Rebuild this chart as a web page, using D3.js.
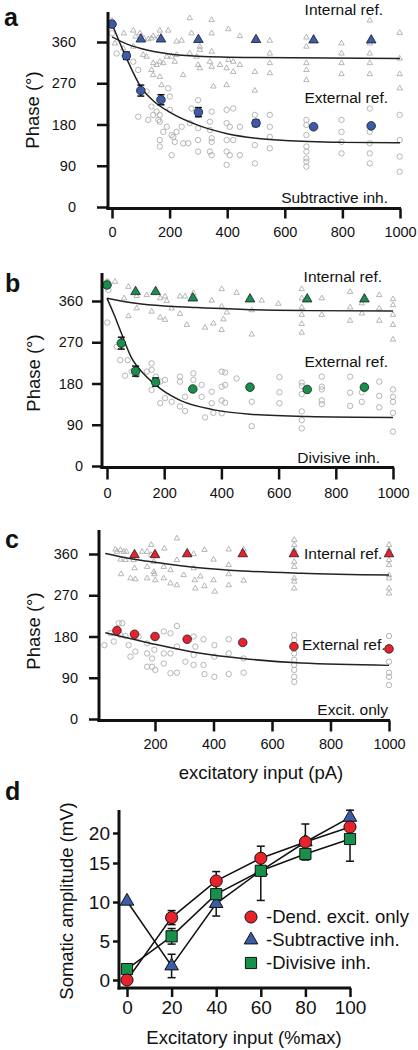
<!DOCTYPE html>
<html><head><meta charset="utf-8">
<script src="https://cdn.jsdelivr.net/npm/d3@7"></script>
<style>body{margin:0;background:#fff}svg{display:block;font-family:"Liberation Sans",Arial,sans-serif}</style>
</head><body>
<script>
// ---------- Panel a (subtractive inh.) ----------
const aX = [0,50,100,170,300,500,700,900];
const aExt = [399,330,254,234,207,183,175,177];
const aExtErr = [0,8,12,11,10,7,0,0];
const aIntX = [100,170,300,500,700,900];
const aInt = [366,366,365,365,364,364];
const aIntFit = [[0,371],[50,356],[100,346],[200,334],[300,329],[500,326],[1000,324]];
const aExtFit = [[0,400],[50,325],[100,262],[150,228],[200,207],[300,178],[400,160],[500,150],[600,145],[800,141],[1000,140]];
const aTri = [[0,407],[41,379],[74,385],[82,372],[97,379],[111,368],[126,366],[137,368],[143,373],[161,370],[166,385],[195,385],[224,361],[242,363],[270,412],[276,379],[305,350],[346,408],[346,379],[404,388],[444,373],[496,363],[548,363],[675,370],[895,407],[999,380],[10,357],[39,346],[74,350],[108,332],[120,328],[143,314],[155,310],[166,317],[178,314],[190,328],[207,328],[218,317],[224,332],[247,288],[270,335],[294,328],[305,343],[299,310],[305,303],[346,339],[346,306],[340,317],[375,310],[398,303],[421,295],[404,321],[421,317],[444,310],[548,335],[548,314],[548,292],[496,295],[496,254],[675,350],[675,314],[675,299],[675,277],[797,357],[797,335],[797,314],[797,290],[895,357],[895,335],[895,314],[895,290],[999,324],[999,290],[999,259],[352,263],[398,266],[166,284],[172,266],[143,288],[137,299]];
const aCirc = [[0,379],[16,335],[74,317],[91,299],[91,197],[126,190],[120,252],[137,219],[143,201],[155,208],[161,190],[166,201],[166,186],[178,164],[166,146],[166,132],[190,175],[195,259],[201,241],[201,212],[207,157],[213,153],[218,142],[207,113],[224,164],[242,175],[247,139],[265,139],[270,183],[276,215],[299,233],[299,201],[299,172],[299,146],[299,121],[346,208],[340,186],[340,168],[346,150],[346,142],[340,121],[346,113],[398,212],[421,215],[398,183],[409,175],[398,146],[421,146],[398,121],[409,113],[398,92],[444,175],[444,113],[496,201],[496,179],[496,135],[496,95],[548,201],[548,175],[548,153],[548,128],[675,190],[675,179],[675,157],[675,132],[675,121],[675,106],[675,99],[675,88],[797,190],[797,164],[797,142],[797,117],[895,215],[895,164],[895,139],[895,117],[895,95],[999,201],[999,146],[999,110],[999,77]];

// ---------- Panel b (divisive inh.) ----------
const bX = [0,50,100,170,300,500,700,900];
const bExt = [395,268,207,183,168,172,167,172];
const bExtErr = [0,13,11,9,0,0,0,0];
const bIntX = [100,170,300,500,700,900];
const bInt = [380,380,366,364,364,364];
const bIntFit = [[0,366],[100,355],[200,349],[300,346],[500,341],[700,339],[1000,338]];
const bExtFit = [[0,366],[25,330],[50,290],[85,237],[130,200],[190,167],[260,142],[370,123],[500,113],[700,108],[1000,106]];
const bTri = [[1,402],[28,402],[75,391],[104,371],[60,366],[104,344],[75,327],[156,337],[139,373],[186,366],[203,370],[209,360],[226,344],[186,324],[203,319],[255,370],[273,370],[255,332],[279,308],[302,377],[308,366],[343,302],[366,361],[372,311],[401,386],[401,348],[407,320],[401,297],[419,335],[453,378],[506,340],[506,287],[541,361],[599,354],[681,386],[681,366],[681,346],[681,330],[681,310],[681,291],[751,366],[751,330],[850,380],[850,346],[850,317],[891,333],[891,355],[952,373],[952,344],[952,317],[1000,364],[1000,351],[1000,330],[1000,308],[1000,276]];
const bCirc = [[1,402],[5,384],[1,313],[34,260],[46,231],[72,231],[63,197],[104,199],[86,206],[139,206],[156,224],[156,210],[156,166],[171,195],[186,184],[203,188],[186,137],[203,148],[226,140],[255,195],[255,184],[255,130],[273,120],[273,151],[302,202],[302,188],[331,177],[331,151],[343,106],[366,162],[366,137],[372,116],[401,206],[413,204],[401,173],[413,177],[401,143],[413,138],[401,115],[453,191],[506,140],[506,87],[603,194],[603,161],[603,137],[681,182],[681,175],[681,157],[681,119],[681,100],[681,82],[751,195],[751,173],[751,167],[751,143],[751,135],[850,195],[850,160],[850,131],[891,161],[891,140],[952,184],[952,153],[952,128],[1000,167],[1000,151],[1000,140],[1000,116],[1000,75]];

// ---------- Panel c (excit. only) ----------
const cX = [70,130,200,310,500,675,1000];
const cExt = [193,185,180,174,167,158,153];
const cIntX = [130,200,310,500,675,1000];
const cInt = [358,358,360,360,360,360];
const cIntFit = [[30,361],[100,352],[200,342],[350,330],[500,323],[700,318],[1000,314]];
const cExtFit = [[30,188],[100,178],[200,163],[350,144],[500,132],[700,122],[1000,117]];
const cTri = [[65,370],[70,365],[82,369],[93,365],[102,365],[82,348],[99,347],[84,316],[116,307],[133,305],[130,329],[127,347],[156,365],[173,365],[187,380],[187,358],[173,332],[173,307],[196,343],[196,321],[201,303],[198,316],[232,372],[230,332],[230,307],[253,325],[253,296],[275,394],[275,347],[275,292],[298,314],[332,360],[332,329],[336,303],[338,285],[355,311],[369,369],[369,290],[400,348],[400,303],[404,278],[452,336],[452,316],[452,292],[452,370],[503,370],[503,302],[676,391],[676,380],[676,369],[676,343],[676,332],[676,307],[676,300],[676,285],[1000,380],[1000,369],[1000,347],[1000,336],[1000,314],[1000,307],[1000,285],[1000,274]];
const cCirc = [[27,161],[48,187],[59,169],[76,209],[88,209],[82,183],[99,181],[110,161],[116,136],[133,147],[144,180],[173,165],[173,143],[173,114],[190,132],[190,114],[201,107],[198,151],[230,191],[230,143],[230,121],[253,187],[253,143],[253,100],[275,203],[275,158],[275,101],[304,125],[332,180],[332,140],[332,118],[338,158],[366,174],[366,118],[369,98],[403,161],[403,136],[403,92],[452,174],[452,143],[452,98],[503,132],[503,101],[676,183],[676,172],[676,143],[676,129],[676,118],[676,107],[676,92],[676,81],[1000,181],[1000,125],[1000,101],[1000,92],[1000,74]];

const phaseTicks = [0,90,180,270,360];
const xTicksAB = [0,200,400,600,800,1000];
const xTicksC = [200,400,600,800,1000];

// ---------- Panel d ----------
const dX = [0,20,40,60,80,100];
const dRed = [0,8.0,12.7,15.8,18.5,21.0];
const dRedErr = [0,0.9,1.2,0,0,0];
const dBlue = [10.1,1.8,9.8,14.0,18.5,22.6];
const dBlueErr = [0,1.5,1.6,0,3.0,1.2];
const dGreen = [1.4,5.6,11.0,14.0,16.5,19.0];
const dGreenErr = [0,1.0,0,3.8,0.5,3.7];
const dYTicks = [0,5,10,15,20];
const dLegend = ["-Dend. excit. only","-Subtractive inh.","-Divisive inh."];

const BLUE="#3c5ca8", GREEN="#17904a", RED="#e8222a", GRAY="#a9a9a9";

const svg = d3.select("body").append("svg").attr("width",418).attr("height",1050);

function phasePanel(cfg){
  const g = svg.append("g");
  const x = d3.scaleLinear().domain([0,1000]).range(cfg.xr);
  const y = d3.scaleLinear().domain([0,360]).range(cfg.yr);
  const xAxisY = y(0)+1.5;
  // gray scatter
  const tri = d3.symbol().type(d3.symbolTriangle).size(13);
  g.append("g").selectAll("path").data(cfg.tri).join("path")
    .attr("d",tri).attr("transform",d=>`translate(${x(d[0])},${y(d[1])})`)
    .attr("fill","none").attr("stroke",GRAY).attr("stroke-width",0.85);
  g.append("g").selectAll("circle").data(cfg.circ).join("circle")
    .attr("cx",d=>x(d[0])).attr("cy",d=>y(d[1])).attr("r",2.7)
    .attr("fill","none").attr("stroke",GRAY).attr("stroke-width",0.85);
  // fits
  const line = d3.line().x(d=>x(d[0])).y(d=>y(d[1])).curve(d3.curveMonotoneX);
  [cfg.intFit,cfg.extFit].forEach(f=>g.append("path").attr("d",line(f)).attr("fill","none").attr("stroke","#222").attr("stroke-width",1.5));
  // error bars
  cfg.mx.forEach((xv,i)=>{
    const e = cfg.err ? cfg.err[i] : 0;
    if(!e) return;
    const cx = x(xv), y1 = y(cfg.ext[i]+e), y2 = y(cfg.ext[i]-e);
    g.append("line").attr("x1",cx).attr("x2",cx).attr("y1",y1).attr("y2",y2).attr("stroke","#111").attr("stroke-width",1.5);
    [y1,y2].forEach(yy=>g.append("line").attr("x1",cx-3.5).attr("x2",cx+3.5).attr("y1",yy).attr("y2",yy).attr("stroke","#111").attr("stroke-width",1.5));
  });
  // means
  g.append("g").selectAll("circle").data(cfg.mx.map((v,i)=>[v,cfg.ext[i]])).join("circle")
    .attr("cx",d=>x(d[0])).attr("cy",d=>y(d[1])).attr("r",4.3)
    .attr("fill",cfg.color).attr("stroke","#1a1a2a").attr("stroke-width",0.8);
  const mtri = d3.symbol().type(d3.symbolTriangle).size(40);
  g.append("g").selectAll("path").data(cfg.ix.map((v,i)=>[v,cfg.int[i]])).join("path")
    .attr("d",mtri).attr("transform",d=>`translate(${x(d[0])},${y(d[1])})`)
    .attr("fill",cfg.color).attr("stroke","#1a1a2a").attr("stroke-width",0.8);
  // axes
  const ya = g.append("g").attr("transform",`translate(${cfg.axisX},0)`)
    .call(d3.axisLeft(y).tickValues(phaseTicks).tickSize(cfg.yTick).tickPadding(cfg.yPad).tickFormat(d3.format("d")));
  const xa = g.append("g").attr("transform",`translate(0,${xAxisY})`)
    .call(d3.axisBottom(x).tickValues(cfg.xt).tickSize(cfg.xTick).tickPadding(cfg.xPad).tickFormat(d3.format("d")));
  [ya,xa].forEach(a=>{
    a.select(".domain").remove();
    a.selectAll(".tick line").attr("stroke","#111").attr("stroke-width",2.5);
    a.selectAll(".tick text").attr("font-size",14.5).attr("fill","#111").attr("font-family","Liberation Sans, Arial, sans-serif");
  });
  g.append("line").attr("x1",cfg.axisX).attr("x2",cfg.axisX).attr("y1",cfg.yTop).attr("y2",xAxisY+1.5).attr("stroke","#111").attr("stroke-width",3);
  g.append("line").attr("x1",cfg.axisX-1.5).attr("x2",cfg.xr[1]+1).attr("y1",xAxisY).attr("y2",xAxisY).attr("stroke","#111").attr("stroke-width",3);
  // texts
  g.append("text").attr("transform",`translate(${cfg.titleX},${cfg.titleY}) rotate(-90)`).attr("text-anchor","middle")
    .attr("dy","0.35em").attr("font-size",18.5).attr("fill","#111").text("Phase (°)");
  cfg.labels.forEach(l=>g.append("text").attr("x",l[1]).attr("y",l[2]).attr("text-anchor",l[3]||"end").attr("font-size",15.5).attr("fill","#111").text(l[0]));
  g.append("text").attr("x",cfg.letter[0]).attr("y",cfg.letter[1]).attr("font-size",25).attr("font-weight","bold").attr("fill","#111").text(cfg.letter[2]);
}

phasePanel({xr:[112,400],yr:[207,42],axisX:108,yTop:12,yTick:11,yPad:21,xTick:10,xPad:8,xt:xTicksAB,
  tri:aTri,circ:aCirc,intFit:aIntFit,extFit:aExtFit,mx:aX,ext:aExt,err:aExtErr,ix:aIntX,int:aInt,color:BLUE,
  titleX:33,titleY:110,
  labels:[["Internal ref.",383,15],["External ref.",388,103],["Subtractive inh.",388,203]],
  letter:[4,26,"a"]});
phasePanel({xr:[107,393],yr:[466,301],axisX:102,yTop:273,yTick:10,yPad:9,xTick:12,xPad:8,xt:xTicksAB,
  tri:bTri,circ:bCirc,intFit:bIntFit,extFit:bExtFit,mx:bX,ext:bExt,err:bExtErr,ix:bIntX,int:bInt,color:GREEN,
  titleX:34,titleY:373,
  labels:[["Internal ref.",382,282],["External ref.",388,367],["Divisive inh.",380,463]],
  letter:[5,292,"b"]});
phasePanel({xr:[96.5,389],yr:[719,554],axisX:99,yTop:530,yTick:10,yPad:11,xTick:11,xPad:7,xt:xTicksC,
  tri:cTri,circ:cCirc,intFit:cIntFit,extFit:cExtFit,mx:cX,ext:cExt,err:null,ix:cIntX,int:cInt,color:RED,
  titleX:34,titleY:631,
  labels:[["Internal ref.",304,559,"start"],["External ref.",302,650,"start"],["Excit. only",388,715]],
  letter:[5,548,"c"]});
svg.append("text").attr("x",261).attr("y",779).attr("text-anchor","middle").attr("font-size",18.5).attr("fill","#111").text("excitatory input (pA)");

// ---------- Panel d ----------
(function(){
  const g = svg.append("g");
  const x = d3.scaleLinear().domain([0,100]).range([127,350]);
  const y = d3.scaleLinear().domain([0,15,20]).range([980,863,833]);
  const axisY = 988;
  const line = d3.line().x(d=>x(d[0])).y(d=>y(d[1]));
  const series = [
    {v:dBlue,e:dBlueErr,c:BLUE,s:"tri"},
    {v:dGreen,e:dGreenErr,c:GREEN,s:"sq"},
    {v:dRed,e:dRedErr,c:RED,s:"circ"}
  ];
  series.forEach(s=>{
    g.append("path").attr("d",line(dX.map((xv,i)=>[xv,s.v[i]]))).attr("fill","none").attr("stroke","#111").attr("stroke-width",1.5);
  });
  series.forEach(s=>{
    dX.forEach((xv,i)=>{
      if(!s.e[i]) return;
      const cx=x(xv), y1=y(s.v[i]+s.e[i]), y2=y(s.v[i]-s.e[i]);
      g.append("line").attr("x1",cx).attr("x2",cx).attr("y1",y1).attr("y2",y2).attr("stroke","#111").attr("stroke-width",1.5);
      [y1,y2].forEach(yy=>g.append("line").attr("x1",cx-4).attr("x2",cx+4).attr("y1",yy).attr("y2",yy).attr("stroke","#111").attr("stroke-width",1.5));
    });
  });
  const sym = {tri:d3.symbol().type(d3.symbolTriangle).size(80), sq:d3.symbol().type(d3.symbolSquare).size(125), circ:d3.symbol().type(d3.symbolCircle).size(115)};
  series.forEach(s=>{
    g.append("g").selectAll("path").data(dX.map((xv,i)=>[xv,s.v[i]])).join("path")
      .attr("d",sym[s.s]).attr("transform",d=>`translate(${x(d[0])},${y(d[1])})`)
      .attr("fill",s.c).attr("stroke","#111").attr("stroke-width",1);
  });
  const ya = g.append("g").attr("transform","translate(119,0)").call(d3.axisLeft(y).tickValues(dYTicks).tickSize(6).tickPadding(3));
  const xa = g.append("g").attr("transform",`translate(0,${axisY})`).call(d3.axisBottom(x).tickValues(dX).tickSize(9).tickPadding(4));
  [ya,xa].forEach(a=>{
    a.select(".domain").remove();
    a.selectAll(".tick line").attr("stroke","#111").attr("stroke-width",2.5);
    a.selectAll(".tick text").attr("font-size",19).attr("fill","#111").attr("font-family","Liberation Sans, Arial, sans-serif");
  });
  g.append("line").attr("x1",119).attr("x2",119).attr("y1",810).attr("y2",axisY+1.5).attr("stroke","#111").attr("stroke-width",3);
  g.append("line").attr("x1",117.5).attr("x2",351).attr("y1",axisY).attr("y2",axisY).attr("stroke","#111").attr("stroke-width",3);
  // legend
  const legSym = [sym.circ, sym.tri, sym.sq], legCol=[RED,BLUE,GREEN];
  dLegend.forEach((t,i)=>{
    const yy = 917 + i*23;
    g.append("path").attr("d",legSym[i]).attr("transform",`translate(251,${yy})`).attr("fill",legCol[i]).attr("stroke","#111").attr("stroke-width",1);
    g.append("text").attr("x",266).attr("y",yy).attr("dy","0.35em").attr("font-size",18.5).attr("fill","#111").text(t);
  });
  g.append("text").attr("transform","translate(67,901) rotate(-90)").attr("text-anchor","middle").attr("dy","0.35em").attr("font-size",18.5).attr("fill","#111").text("Somatic amplitude (mV)");
  g.append("text").attr("x",244).attr("y",1044).attr("text-anchor","middle").attr("font-size",18.5).attr("fill","#111").text("Excitatory input (%max)");
  g.append("text").attr("x",5).attr("y",800).attr("font-size",25).attr("font-weight","bold").attr("fill","#111").text("d");
})();
</script>
</body></html>
